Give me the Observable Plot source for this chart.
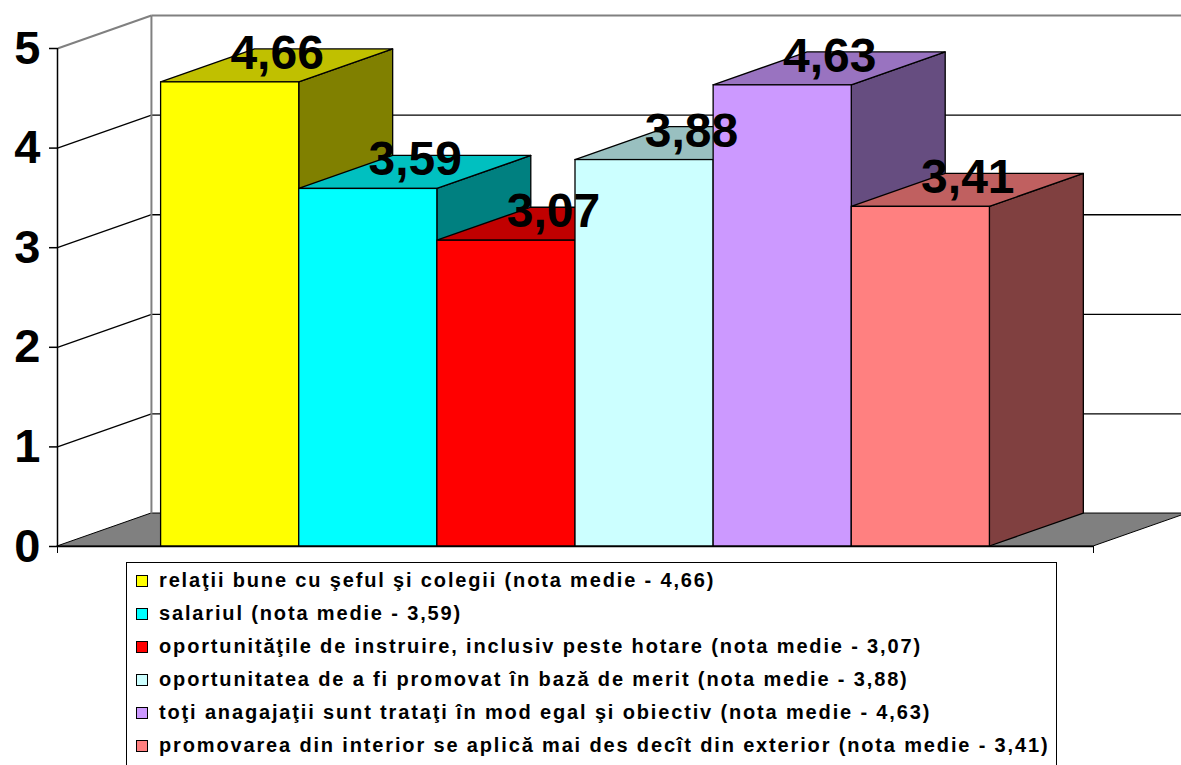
<!DOCTYPE html>
<html>
<head>
<meta charset="utf-8">
<script src="https://cdn.jsdelivr.net/npm/d3@7"></script>
<script src="https://cdn.jsdelivr.net/npm/@observablehq/plot@0.6"></script>
<style>
  html, body { margin: 0; padding: 0; background: #fff; }
  body { width: 1181px; height: 765px; overflow: hidden; font-family: "Liberation Sans", Arial, sans-serif; }
  #chart svg { display: block; }
  #legend {
    position: absolute; left: 126px; top: 562px; width: 931px; height: 220px;
    border: 1.5px solid #000; box-sizing: border-box; background: #fff;
    padding-top: 1px;
  }
  .row { height: 33px; display: flex; align-items: center; padding-left: 9px;
    font-weight: bold; font-size: 20px; letter-spacing: 1.85px; color: #000; white-space: nowrap; }
  .sw { width: 10px; height: 10px; border: 1px solid #000; margin-right: 11px; flex: none; }
</style>
</head>
<body>
<div id="chart"></div>
<div id="legend"></div>
<script>
// ---- data ----
const categories = [
  "relaţii bune cu şeful şi colegii",
  "salariul",
  "oportunităţile de instruire, inclusiv peste hotare",
  "oportunitatea de a fi promovat în bază de merit",
  "toţi anagajaţii sunt trataţi în mod egal şi obiectiv",
  "promovarea din interior se aplică mai des decît din exterior"
];
const values = [4.66, 3.59, 3.07, 3.88, 4.63, 3.41];
const valueLabels = ["4,66", "3,59", "3,07", "3,88", "4,63", "3,41"];
const yTicks = [0, 1, 2, 3, 4, 5];

// ---- styles ----
const frontColors = ["#FFFF00", "#00FFFF", "#FF0000", "#CCFFFF", "#CC99FF", "#FF8080"];
const topColors   = ["#C0C000", "#00C0C0", "#C00000", "#99C0C0", "#9973C0", "#C06060"];
const sideColors  = ["#808000", "#008080", "#800000", "#668080", "#664D80", "#804040"];

// 3D depth offsets in data units
const DX = 0.68, DY = 0.331;
const X0 = -0.75, X1 = categories.length + 0.75;

const bars = values.map((v, i) => ({i, v, label: valueLabels[i], front: frontColors[i], top: topColors[i], side: sideColors[i]}));

// face polygons (as piecewise areas) built from values
const sides = bars.flatMap(b => [
  {z: b.i, x: b.i + 1, y1: 0, y2: b.v, fill: b.side},
  {z: b.i, x: b.i + 1 + DX, y1: DY, y2: b.v + DY, fill: b.side}
]);
const tops = bars.flatMap(b => [
  {z: b.i, x: b.i, y1: b.v, y2: b.v, fill: b.top},
  {z: b.i, x: b.i + DX, y1: b.v, y2: b.v + DY, fill: b.top},
  {z: b.i, x: b.i + 1, y1: b.v, y2: b.v + DY, fill: b.top},
  {z: b.i, x: b.i + 1 + DX, y1: b.v + DY, y2: b.v + DY, fill: b.top}
]);
const floor = [
  {x: X0, y1: 0, y2: 0},
  {x: X0 + DX, y1: 0, y2: DY},
  {x: X1, y1: 0, y2: DY},
  {x: X1 + DX, y1: DY, y2: DY}
];
const grid = yTicks.filter(t => t > 0);

const chart = Plot.plot({
  width: 1181,
  height: 556,
  marginLeft: 57,
  marginRight: 88,
  marginTop: 48,
  marginBottom: 10,
  style: {fontFamily: '"Liberation Sans", Arial, sans-serif', background: "#fff", overflow: "visible"},
  x: {type: "linear", domain: [X0, X1], axis: null},
  y: {domain: [0, 5], axis: null},
  color: {type: "identity"},
  marks: [
    // floor
    Plot.areaY(floor, {x: "x", y1: "y1", y2: "y2", fill: "#808080", stroke: "#000", strokeWidth: 1, curve: "linear"}),
    // back wall gridlines
    Plot.link(grid, {x1: X0 + DX, x2: X1 + DX, y1: d => d + DY, y2: d => d + DY,
      stroke: d => d === 5 ? "#808080" : "#000", strokeWidth: d => d === 5 ? 2 : 1.3}),
    // side wall gridlines
    Plot.link(grid, {x1: X0, x2: X0 + DX, y1: d => d, y2: d => d + DY,
      stroke: d => d === 5 ? "#808080" : "#000", strokeWidth: d => d === 5 ? 2 : 1.3}),
    // back wall left edge
    Plot.link([0], {x1: X0 + DX, x2: X0 + DX, y1: DY, y2: 5 + DY, stroke: "#808080", strokeWidth: 2}),
    // bar sides
    Plot.areaY(sides, {x: "x", y1: "y1", y2: "y2", z: "z", fill: "fill", stroke: "#000", strokeWidth: 1.3, curve: "linear"}),
    // bar tops
    Plot.areaY(tops, {x: "x", y1: "y1", y2: "y2", z: "z", fill: "fill", stroke: "#000", strokeWidth: 1.3, curve: "linear"}),
    // bar fronts
    Plot.rectY(bars, {x1: d => d.i, x2: d => d.i + 1, y1: 0, y2: "v", fill: "front", stroke: "#000", strokeWidth: 1.3}),
    // value labels
    Plot.text(bars, {x: d => d.i + 0.5 + DX / 2, y: d => d.v + DY / 2, text: "label",
      lineAnchor: "bottom", dy: 3, fontSize: 48, fontWeight: "bold", fill: "#000"}),
    // front base line and axis line
    Plot.ruleY([0], {stroke: "#000", strokeWidth: 1.5}),
    Plot.ruleX([X0], {stroke: "#000", strokeWidth: 1.5}),
    Plot.axisX({ticks: [X0, X1], tickFormat: () => "", tickSize: 7, stroke: "#000", label: null}),
    Plot.axisY({ticks: yTicks, anchor: "left", tickSize: 8, tickPadding: 9, label: null,
      tickFormat: d => String(d),
      fontSize: 47, fontWeight: "bold", stroke: "#000", strokeWidth: 1.5, fill: "#000"})
  ]
});
document.getElementById("chart").appendChild(chart);

// legend
const legend = document.getElementById("legend");
categories.forEach((c, i) => {
  const row = document.createElement("div");
  row.className = "row";
  const sw = document.createElement("span");
  sw.className = "sw";
  sw.style.background = frontColors[i];
  const t = document.createElement("span");
  t.textContent = `${c} (nota medie - ${valueLabels[i]})`;
  row.appendChild(sw);
  row.appendChild(t);
  legend.appendChild(row);
});
</script>
</body>
</html>
